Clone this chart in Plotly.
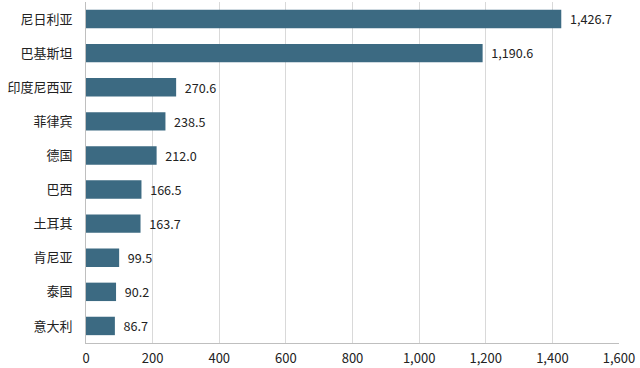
import plotly.graph_objects as go

countries = ["尼日利亚", "巴基斯坦", "印度尼西亚", "菲律宾", "德国", "巴西", "土耳其", "肯尼亚", "泰国", "意大利"]
values = [1426.7, 1190.6, 270.6, 238.5, 212.0, 166.5, 163.7, 99.5, 90.2, 86.7]
tick_vals = [0, 200, 400, 600, 800, 1000, 1200, 1400, 1600]
tick_text = ["0", "200", "400", "600", "800", "1,000", "1,200", "1,400", "1,600"]

font_family = "Noto Sans CJK SC, Noto Sans, sans-serif"

fig = go.Figure(go.Bar(
    x=values,
    y=countries,
    orientation="h",
    marker=dict(color="#3c6a82", line=dict(width=0)),
    width=0.54,
    text=[f"{v:,.1f}" for v in values],
    texttemplate="  %{text}",
    textposition="outside",
    cliponaxis=False,
    textfont=dict(size=13, color="#222222", family=font_family),
))

fig.update_layout(
    width=640, height=368,
    margin=dict(l=86, r=21, t=2, b=25),
    paper_bgcolor="white",
    plot_bgcolor="white",
    showlegend=False,
    font=dict(family=font_family, color="#222222", size=12),
    xaxis=dict(
        range=[0, 1600],
        tickvals=tick_vals,
        ticktext=tick_text,
        showgrid=True,
        gridcolor="#d9d9d9",
        gridwidth=1,
        zeroline=False,
        showline=True,
        linecolor="#bfbfbf",
        mirror=False,
        ticks="",
        ticklabelstandoff=3,
        tickfont=dict(size=13, color="#222222"),
        automargin=False,
        fixedrange=True,
    ),
    yaxis=dict(
        categoryorder="array",
        categoryarray=countries,
        autorange="reversed",
        showgrid=False,
        zeroline=False,
        showline=True,
        linecolor="#bfbfbf",
        ticks="",
        ticklabelstandoff=10,
        tickfont=dict(size=13, color="#222222"),
        automargin=False,
        fixedrange=True,
    ),
    bargap=0.46,
)

fig.write_html(
    "out.html",
    config={"displayModeBar": False},
    post_script="document.body.style.margin='0';document.body.style.overflow='hidden';",
)
